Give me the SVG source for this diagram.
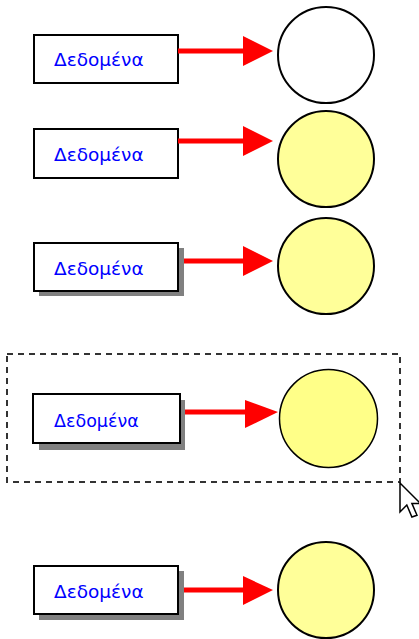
<svg xmlns="http://www.w3.org/2000/svg" width="419" height="639" viewBox="0 0 419 639">
<style>
.box{fill:#fff;stroke:#000;stroke-width:2}
.shadow{fill:#808080}
.lbl{font-family:"DejaVu Sans","Liberation Sans",sans-serif;font-size:18.5px;fill:#0000ff}
.circ{fill:#ffff99;stroke:#000;stroke-width:2}
.line{stroke:#ff0000;stroke-width:5;fill:none}
.head{fill:#ff0000}
</style>
<rect width="419" height="639" fill="#fff"/>
<g id="selection">
<rect x="7" y="354" width="393" height="128" fill="none" stroke="#333" stroke-width="2" stroke-dasharray="6,5"/>
</g>
<g id="node1">
<rect class="box" x="34" y="35" width="144" height="48"/>
<text class="lbl" x="54" y="66">Δεδομένα</text>
</g>
<g id="circle1"><circle cx="326" cy="55" r="48" fill="#fff" stroke="#000" stroke-width="2"/></g>
<g id="node2">
<rect class="box" x="34" y="129" width="144" height="49"/>
<text class="lbl" x="54" y="161">Δεδομένα</text>
</g>
<g id="circle2"><circle class="circ" cx="326" cy="159" r="48"/></g>
<g id="node3">
<rect class="shadow" x="39" y="248" width="145" height="48"/>
<rect class="box" x="34" y="243" width="144" height="48"/>
<text class="lbl" x="54" y="275">Δεδομένα</text>
</g>
<g id="circle3"><circle class="circ" cx="326" cy="266" r="48"/></g>
<g id="node4">
<rect class="shadow" x="39" y="400" width="146" height="50"/>
<rect class="box" x="33" y="394" width="147" height="49"/>
<text class="lbl" x="54" y="427" style="font-size:17.5px">Δεδομένα</text>
</g>
<g id="circle4"><circle cx="328.5" cy="418.5" r="49" fill="#ffff88" stroke="#000" stroke-width="1.5"/></g>
<g id="node5">
<rect class="shadow" x="39" y="571" width="145" height="49"/>
<rect class="box" x="34" y="566" width="144" height="48"/>
<text class="lbl" x="54" y="598">Δεδομένα</text>
</g>
<g id="circle5"><circle class="circ" cx="326" cy="590" r="48"/></g>
<g id="connectors">
<line class="line" x1="178" y1="51" x2="245" y2="51"/>
<polygon class="head" points="243,36 273,51 243,66"/>
<line class="line" x1="178" y1="141" x2="245" y2="141"/>
<polygon class="head" points="243,126 273,141 243,156"/>
<line class="line" x1="184" y1="261" x2="245" y2="261"/>
<polygon class="head" points="243,246 273,261 243,276"/>
<line class="line" x1="185" y1="412" x2="247" y2="412"/>
<polygon class="head" points="245,400 278,412 245,428"/>
<line class="line" x1="184" y1="590" x2="245" y2="590"/>
<polygon class="head" points="243,576 273,590 243,605"/>
</g>
<g id="cursor">
<polygon points="400,483 400,512 406.8,505 411.9,517 417,515.3 411.9,503.4 420.4,503.4" fill="#fff" stroke="#000" stroke-width="1.5" stroke-linejoin="miter"/>
</g>
</svg>
